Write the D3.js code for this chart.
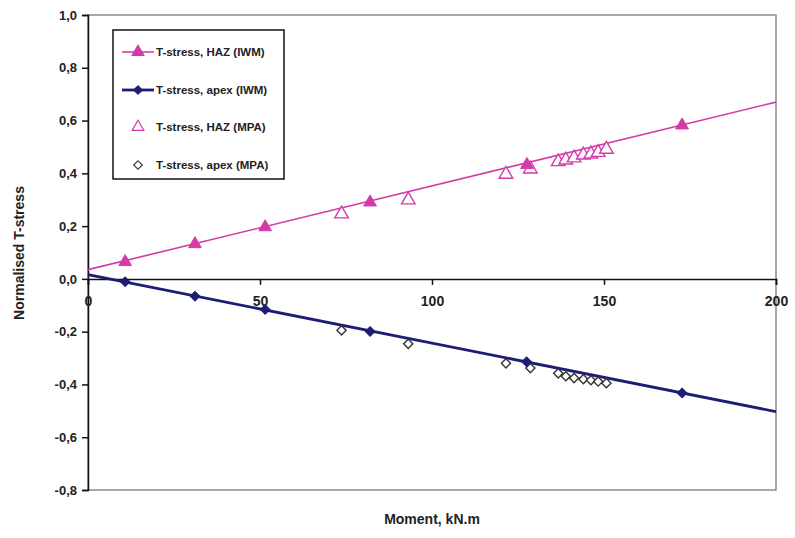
<!DOCTYPE html>
<html><head><meta charset="utf-8">
<script src="https://cdn.jsdelivr.net/npm/d3@7"></script>
<style>
body{margin:0;background:#fff;}
text{font-family:"Liberation Sans",Arial,sans-serif;}
</style></head>
<body><svg id="c" width="795" height="538"></svg>
<script>
// ---- data ----
const xTicks = [0, 50, 100, 150, 200];
const yTicks = [1.0, 0.8, 0.6, 0.4, 0.2, 0.0, -0.2, -0.4, -0.6, -0.8];
const seriesNames = ["T-stress, HAZ (IWM)", "T-stress, apex (IWM)", "T-stress, HAZ (MPA)", "T-stress, apex (MPA)"];
const hazIwmX = [10.8, 31.1, 51.5, 82.0, 127.6, 172.7];
const hazIwmY = [0.068, 0.136, 0.200, 0.294, 0.436, 0.586];
const apexIwmX = [10.8, 31.1, 51.5, 82.0, 127.5, 172.7];
const apexIwmY = [-0.011, -0.066, -0.116, -0.199, -0.314, -0.432];
const mpaX = [73.7, 93.1, 121.5, 128.6, 136.7, 138.9, 141.3, 144.0, 146.2, 148.3, 150.7];
const hazMpaY = [0.25, 0.303, 0.40, 0.42, 0.448, 0.454, 0.462, 0.473, 0.477, 0.483, 0.495];
const apexMpaY = [-0.195, -0.246, -0.32, -0.338, -0.358, -0.369, -0.376, -0.38, -0.384, -0.389, -0.395];

const pink = "#d23ba8", navy = "#1d1d74";

const svg = d3.select("#c");
const x = d3.scaleLinear().domain([0, 200]).range([88, 776]);
const y = d3.scaleLinear().domain([-0.8, 1.0]).range([490, 15]);
const fmt = d => d3.format(".1f")(d).replace(".", ",").replace("−","-");

// plot frame
svg.append("rect").attr("x", x(0)).attr("y", y(1)).attr("width", x(200) - x(0)).attr("height", y(-0.8) - y(1))
  .attr("fill", "none").attr("stroke", "#8a8a8a").attr("stroke-width", 1.5);

// y axis
const yAxis = d3.axisLeft(y).tickValues(yTicks).tickSize(6).tickFormat(fmt);
const gy = svg.append("g").attr("transform", `translate(${x(0)},0)`).call(yAxis);
gy.select(".domain").attr("stroke", "#111").attr("stroke-width", 1.5);
gy.selectAll(".tick line").attr("stroke", "#111").attr("stroke-width", 1.5);
gy.selectAll(".tick text").attr("font-size", 13).attr("font-weight", "bold").attr("fill", "#222").attr("x", -11);

// x axis at y=0
const xAxis = d3.axisBottom(x).tickValues(xTicks).tickSize(6).tickPadding(11);
const gx = svg.append("g").attr("transform", `translate(0,${y(0)})`).call(xAxis);
gx.select(".domain").attr("stroke", "#111").attr("stroke-width", 1.5);
gx.selectAll(".tick line").attr("stroke", "#111").attr("stroke-width", 1.5);
gx.selectAll(".tick text").attr("font-size", 14).attr("font-weight", "bold").attr("fill", "#222");

// linear fits drawn across the full x range
function fit(xs, ys) {
  const n = xs.length, mx = d3.mean(xs), my = d3.mean(ys);
  let sxy = 0, sxx = 0;
  for (let i = 0; i < n; i++) { sxy += (xs[i] - mx) * (ys[i] - my); sxx += (xs[i] - mx) ** 2; }
  const b = sxy / sxx; return v => my + b * (v - mx);
}
const fHaz = fit(hazIwmX, hazIwmY), fApex = fit(apexIwmX, apexIwmY);
const line = d3.line().x(d => x(d[0])).y(d => y(d[1]));
svg.append("path").attr("d", line(x.domain().map(v => [v, fHaz(v)]))).attr("stroke", pink).attr("stroke-width", 1.6).attr("fill", "none");
svg.append("path").attr("d", line(x.domain().map(v => [v, fApex(v)]))).attr("stroke", navy).attr("stroke-width", 2.8).attr("fill", "none");

const tri = d3.symbol().type(d3.symbolTriangle);
const sq = d3.symbol().type(d3.symbolSquare);
// MPA hollow markers
svg.selectAll(".hm").data(d3.zip(mpaX, hazMpaY)).join("path")
  .attr("d", tri.size(80)()).attr("transform", d => `translate(${x(d[0])},${y(d[1])+1})`)
  .attr("fill", "#fff").attr("stroke", pink).attr("stroke-width", 1.4);
svg.selectAll(".am").data(d3.zip(mpaX, apexMpaY)).join("path")
  .attr("d", sq.size(42)()).attr("transform", d => `translate(${x(d[0])},${y(d[1])}) rotate(45)`)
  .attr("fill", "#fff").attr("stroke", "#333").attr("stroke-width", 1.4);
// IWM filled markers
svg.selectAll(".hi").data(d3.zip(hazIwmX, hazIwmY)).join("path")
  .attr("d", tri.size(70)()).attr("transform", d => `translate(${x(d[0])},${y(d[1])+1})`)
  .attr("fill", pink).attr("stroke", pink).attr("stroke-width", 1);
svg.selectAll(".ai").data(d3.zip(apexIwmX, apexIwmY)).join("path")
  .attr("d", sq.size(46)()).attr("transform", d => `translate(${x(d[0])},${y(d[1])}) rotate(45)`)
  .attr("fill", navy).attr("stroke", navy).attr("stroke-width", 1);

// axis titles
svg.append("text").attr("x", 432).attr("y", 524).attr("text-anchor", "middle")
  .attr("font-size", 14).attr("font-weight", "bold").attr("fill", "#222").text("Moment, kN.m");
svg.append("text").attr("transform", "translate(24,253) rotate(-90)").attr("text-anchor", "middle")
  .attr("font-size", 14).attr("font-weight", "bold").attr("fill", "#222").text("Normalised T-stress");

// legend
const lg = svg.append("g");
lg.append("rect").attr("x", 113).attr("y", 30).attr("width", 171).attr("height", 149)
  .attr("fill", "#fff").attr("stroke", "#111").attr("stroke-width", 1.5);
const rowsY = [52, 90, 127, 165];
const leg = lg.selectAll("g.r").data(seriesNames).join("g").attr("transform", (d, i) => `translate(0,${rowsY[i]})`);
leg.filter((d, i) => i < 2).append("line").attr("x1", 122).attr("x2", 154).attr("y1", 0).attr("y2", 0)
  .attr("stroke", (d, i) => i === 0 ? pink : navy).attr("stroke-width", (d, i) => i === 0 ? 1.6 : 2.8);
leg.append("path").attr("d", (d, i) => (i % 2 === 0 ? tri.size(60)() : sq.size(36)()))
  .attr("transform", (d, i) => i % 2 === 0 ? "translate(138,0)" : "translate(138,0) rotate(45)")
  .attr("fill", (d, i) => [pink, navy, "#fff", "#fff"][i])
  .attr("stroke", (d, i) => [pink, navy, pink, "#333"][i]).attr("stroke-width", 1.2);
leg.append("text").attr("x", 156).attr("y", 4).attr("font-size", 11.5).attr("font-weight", "bold").attr("fill", "#222").text(d => d);
</script></body></html>
